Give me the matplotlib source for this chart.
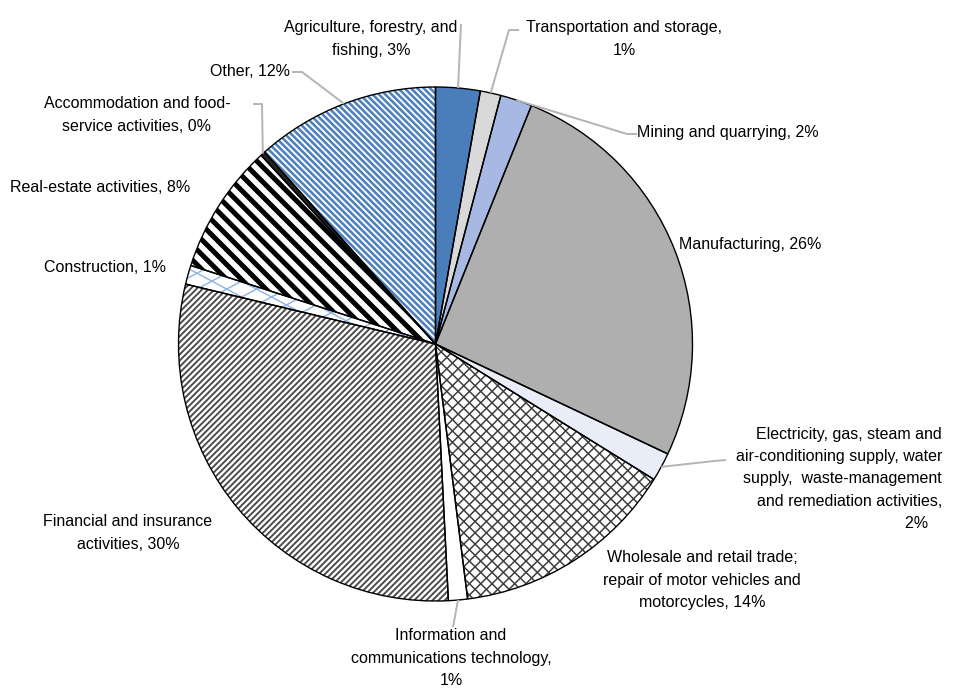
import numpy as np
import matplotlib.pyplot as plt
from matplotlib.collections import LineCollection

# --- data (shares in %) ---
sectors = ["Agriculture", "Transportation", "Mining", "Manufacturing", "Electricity",
           "Wholesale", "ICT", "Financial", "Construction", "Real estate",
           "Accommodation", "Other"]
shares = [2.8, 1.3, 2.0, 26.0, 1.8, 14.2, 1.2, 29.6, 1.2, 8.2, 0.3, 11.6]
labels = [
    "Agriculture, forestry, and\nfishing, 3%",
    "Transportation and storage,\n1%",
    "Mining and quarrying, 2%",
    "Manufacturing, 26%",
    "Electricity, gas, steam and\nair-conditioning supply, water\nsupply,  waste-management\nand remediation activities,\n2%",
    "Wholesale and retail trade;\nrepair of motor vehicles and\nmotorcycles, 14%",
    "Information and\ncommunications technology,\n1%",
    "Financial and insurance\nactivities, 30%",
    "Construction, 1%",
    "Real-estate activities, 8%",
    "Accommodation and food-\nservice activities, 0%",
    "Other, 12%",
]

# --- styles ---
faces = ["#4a7ebb", "#d9d9d9", "#a7b9e3", "#afafaf", "#e9edf7", "white",
         "white", "white", "white", "white", "#222222", "white"]
# stripes: (angle deg, spacing px, width px, color)
stripes = {
    5: [(45, 8, 1.5, "#3c3c3c"), (-45, 8, 1.5, "#3c3c3c")],
    7: [(45, 4.3, 1.9, "#4a4a4a")],
    8: [(28, 14, 1.4, "#8db3e2"), (-28, 14, 1.4, "#8db3e2")],
    9: [(-45, 10.5, 5.0, "black")],
    11: [(-45, 4.5, 2.6, "#4f81bd")],
}

# label layout in pixels: (x, y, horizontal alignment)
label_pos = [(371, 39, "center"), (624, 39, "center"), (728, 133, "center"),
             (750, 244, "center"), (942, 479, "right"), (702, 580, "center"),
             (451, 658, "center"), (128, 533, "center"), (105, 267, "center"),
             (100, 188, "center"), (137, 115, "center"), (250, 72, "center")]
leaders = {0: [(461, 24)], 1: [(519, 30), (509, 30)], 2: [(637, 134), (627, 134)],
           4: [(726, 460), (714, 461)], 6: [(453, 627)],
           10: [(253, 104), (262, 104)], 11: [(292, 72), (302, 72)]}

W, H = 955, 688
CX, CY, R = 435.5, 344, 257


def px(x, y):
    return ((x - CX) / R, (CY - y) / R)


def set_view(ax):
    ax.set_xlim(-CX / R, (W - CX) / R)
    ax.set_ylim(-(H - CY) / R, CY / R)
    ax.axis('off')


plt.rcParams['font.family'] = ['Liberation Sans', 'DejaVu Sans']

fig = plt.figure(figsize=(W / 100, H / 100), dpi=100)
ax = fig.add_axes([0, 0, 1, 1])
ax.set_aspect('equal')

wedges, _ = ax.pie(shares, colors=faces, startangle=90, counterclock=False,
                   radius=1, center=(0, 0), frame=True,
                   wedgeprops=dict(linewidth=0))
set_view(ax)

# stripe fills clipped to wedges
for i, pats in stripes.items():
    for ang, sp, lw, col in pats:
        a = np.deg2rad(ang)
        d = np.array([np.cos(a), np.sin(a)])
        n = np.array([-d[1], d[0]])
        step = sp / R
        segs = []
        for k in np.arange(-1.5, 1.5, step):
            c = n * k
            segs.append([c - 1.5 * d, c + 1.5 * d])
        lc = LineCollection(segs, colors=col, linewidths=lw * 0.72, zorder=2)
        lc.set_clip_path(wedges[i])
        ax.add_collection(lc)

# outlines
ax.pie(shares, colors=["none"] * len(shares), startangle=90, counterclock=False,
       radius=1, center=(0, 0), frame=True,
       wedgeprops=dict(linewidth=1.0, edgecolor="black", fill=False, zorder=3))
set_view(ax)

# leader lines
for i, pts in leaders.items():
    w = wedges[i]
    mid = np.deg2rad((w.theta1 + w.theta2) / 2)
    edge = (np.cos(mid), np.sin(mid))
    xy = [px(*p) for p in pts] + [edge]
    ax.plot([p[0] for p in xy], [p[1] for p in xy], color="#b4b4b4", lw=1.4,
            zorder=4, solid_capstyle='butt')

# labels
for lab, (x, y, ha) in zip(labels, label_pos):
    if ha == "right":
        lab = lab.replace("\n2%", "\n2%   ")
    ax.text(*px(x, y), lab, ha=ha, va="center", multialignment=ha,
            fontsize=11.5, linespacing=1.6, color="black")

fig.savefig("out.png", dpi=100)
